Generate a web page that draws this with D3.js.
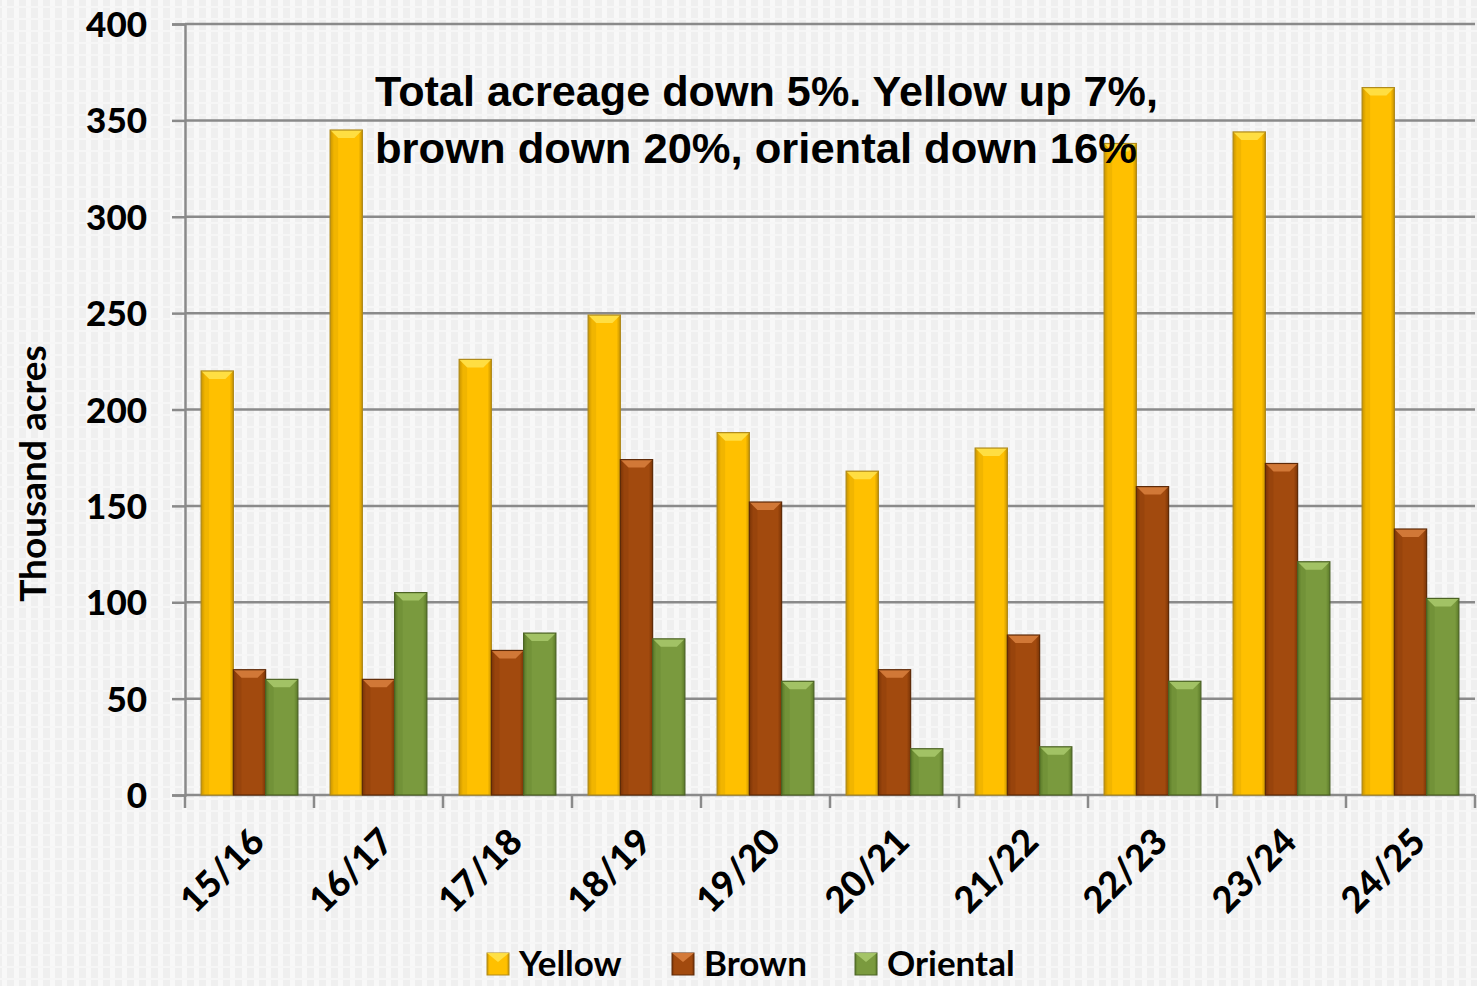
<!DOCTYPE html>
<html>
<head>
<meta charset="utf-8">
<script src="https://cdn.jsdelivr.net/npm/d3@7"></script>
<style>
  html, body { margin: 0; padding: 0; background: #f3f3f3; }
  svg { display: block; }
</style>
</head>
<body>
<svg id="chart" width="1477" height="986"></svg>
<script>
// Tobacco acreage by crop year, thousand acres
const seasons = ["15/16", "16/17", "17/18", "18/19", "19/20", "20/21", "21/22", "22/23", "23/24", "24/25"];
const yellow   = [220, 345, 226, 249, 188, 168, 180, 338, 344, 367];
const brown    = [65, 60, 75, 174, 152, 65, 83, 160, 172, 138];
const oriental = [60, 105, 84, 81, 59, 24, 25, 59, 121, 102];
const seriesNames = ["Yellow", "Brown", "Oriental"];
const yTicks = [0, 50, 100, 150, 200, 250, 300, 350, 400];
const noteLines = ["Total acreage down 5%. Yellow up 7%,", "brown down 20%, oriental down 16%"];

const palette = {
  Yellow:   { base: "#ffc000", light: "#ffe34d", dark: "#c99400", edge: "#b08a1a" },
  Brown:    { base: "#a24a0e", light: "#d9803e", dark: "#7a3406", edge: "#5e2a08" },
  Oriental: { base: "#7a9a3e", light: "#a9c96c", dark: "#5b7a28", edge: "#4b6224" }
};

const svg = d3.select("#chart");
const W = 1477, H = 986;
const margin = { left: 185, right: 2, top: 24, bottom: 191 };

const defs = svg.append("defs");

// textured light-grey backdrop
const pat = defs.append("pattern").attr("id", "tex").attr("patternUnits", "userSpaceOnUse")
  .attr("width", 12).attr("height", 12);
pat.append("rect").attr("width", 12).attr("height", 12).attr("fill", "#efefef");
pat.append("rect").attr("x", 2).attr("width", 5).attr("height", 12).attr("fill", "#f8f8f8");
pat.append("rect").attr("y", 6).attr("width", 12).attr("height", 2).attr("fill", "#f6f6f6");
svg.append("rect").attr("width", W).attr("height", H).attr("fill", "url(#tex)");

// horizontal shading gradient per series
seriesNames.forEach(name => {
  const c = palette[name];
  const g = defs.append("linearGradient").attr("id", "grad-" + name)
    .attr("x1", "0%").attr("x2", "100%").attr("y1", "0%").attr("y2", "0%");
  g.append("stop").attr("offset", "0%").attr("stop-color", c.dark);
  g.append("stop").attr("offset", "12%").attr("stop-color", c.base);
  g.append("stop").attr("offset", "88%").attr("stop-color", c.base);
  g.append("stop").attr("offset", "100%").attr("stop-color", c.dark);
});

const x0 = d3.scaleBand().domain(seasons).range([margin.left, W - margin.right]).paddingInner(0).paddingOuter(0);
const x1 = d3.scaleBand().domain(seriesNames).range([0, x0.bandwidth()]).paddingInner(0).paddingOuter(0.5);
const y = d3.scaleLinear().domain([0, 400]).range([H - margin.bottom, margin.top]);

// gridlines
svg.append("g").selectAll("line").data(yTicks.filter(t => t > 0)).join("line")
  .attr("x1", margin.left).attr("x2", W - margin.right)
  .attr("y1", d => y(d)).attr("y2", d => y(d))
  .attr("stroke", "#8a8a8a").attr("stroke-width", 2.5);

// y axis
const yAxis = svg.append("g").attr("transform", `translate(${margin.left},0)`)
  .call(d3.axisLeft(y).tickValues(yTicks).tickSize(13).tickPadding(25));
yAxis.select(".domain").attr("stroke", "#8a8a8a").attr("stroke-width", 2.5);
yAxis.selectAll(".tick line").attr("stroke", "#8a8a8a").attr("stroke-width", 2.5);
yAxis.selectAll(".tick text")
  .attr("font-family", "Lato, 'Open Sans', sans-serif").attr("font-weight", 900)
  .attr("font-size", 35).attr("fill", "#000").attr("dy", "0.36em");

// x axis: ticks on category boundaries
const xAxisG = svg.append("g").attr("transform", `translate(0,${y(0)})`);
xAxisG.append("line").attr("x1", margin.left).attr("x2", W - margin.right)
  .attr("y1", 0).attr("y2", 0).attr("stroke", "#8a8a8a").attr("stroke-width", 2.5);
const bounds = seasons.map(s => x0(s)).concat([x0(seasons[seasons.length - 1]) + x0.bandwidth()]);
xAxisG.selectAll("line.tk").data(bounds).join("line").attr("class", "tk")
  .attr("x1", d => d).attr("x2", d => d).attr("y1", 0).attr("y2", 13)
  .attr("stroke", "#8a8a8a").attr("stroke-width", 2.5);
xAxisG.selectAll("text").data(seasons).join("text")
  .attr("transform", d => `translate(${x0(d) + x0.bandwidth() / 2 + 8},${40}) rotate(-45)`)
  .attr("text-anchor", "end").attr("dy", "0.35em")
  .attr("font-family", "Lato, 'Open Sans', sans-serif").attr("font-weight", 900)
  .attr("font-size", 36).attr("fill", "#000")
  .text(d => d);

// bars
const data = { Yellow: yellow, Brown: brown, Oriental: oriental };
const groups = svg.append("g").selectAll("g").data(seasons).join("g")
  .attr("transform", d => `translate(${x0(d)},0)`);

groups.each(function(season, i) {
  const g = d3.select(this);
  seriesNames.forEach(name => {
    const v = data[name][i];
    const bx = x1(name), bw = x1.bandwidth();
    const top = y(v), bottom = y(0);
    const c = palette[name];
    g.append("rect").attr("x", bx).attr("y", top).attr("width", bw).attr("height", bottom - top)
      .attr("fill", `url(#grad-${name})`);
    // bevelled top edge
    const bev = 8;
    g.append("path")
      .attr("d", `M${bx},${top} L${bx + bw},${top} L${bx + bw - bev},${top + bev} L${bx + bev},${top + bev} Z`)
      .attr("fill", c.light).attr("opacity", 0.85);
    g.append("path")
      .attr("d", `M${bx},${top} L${bx + bev},${top + bev} L${bx + bev},${bottom} L${bx},${bottom} Z`)
      .attr("fill", c.dark).attr("opacity", 0.25);
    g.append("rect").attr("x", bx).attr("y", top).attr("width", bw).attr("height", bottom - top)
      .attr("fill", "none").attr("stroke", c.edge).attr("stroke-width", 1.2);
  });
});

// y axis title
svg.append("text")
  .attr("transform", `translate(46,${(y(0) + y(400)) / 2 + 64}) rotate(-90)`)
  .attr("text-anchor", "middle")
  .attr("font-family", "Lato, 'Open Sans', sans-serif").attr("font-weight", 700)
  .attr("font-size", 37).attr("fill", "#000")
  .text("Thousand acres");

// annotation
const note = svg.append("g");
const noteWidths = [783, 762];
noteLines.forEach((line, i) => {
  note.append("text")
    .attr("x", 375).attr("y", 106 + i * 57)
    .attr("font-family", "'Liberation Sans', Arial, sans-serif").attr("font-weight", 700)
    .attr("font-size", 43).attr("fill", "#000")
    .attr("textLength", noteWidths[i]).attr("lengthAdjust", "spacingAndGlyphs")
    .text(line);
});

// legend
const legendX = [487, 672, 855];
const legend = svg.append("g").selectAll("g").data(seriesNames).join("g")
  .attr("transform", (d, i) => `translate(${legendX[i]},953)`);
legend.append("rect").attr("width", 22).attr("height", 22)
  .attr("fill", d => `url(#grad-${d})`).attr("stroke", d => palette[d].edge).attr("stroke-width", 1);
legend.append("path").attr("d", "M0,0 L22,0 L11,9 Z").attr("fill", d => palette[d].light).attr("opacity", 0.9);
legend.append("text").attr("x", 32).attr("y", 23)
  .attr("font-family", "Lato, 'Open Sans', sans-serif").attr("font-weight", 700)
  .attr("font-size", 35).attr("fill", "#000")
  .text(d => d);
</script>
</body>
</html>
